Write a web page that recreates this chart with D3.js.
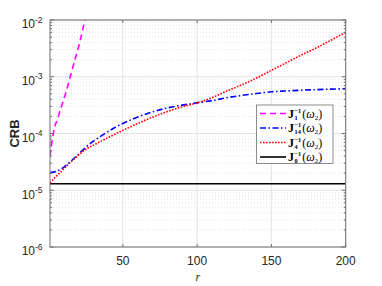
<!DOCTYPE html>
<html><head><meta charset="utf-8">
<script src="https://cdn.jsdelivr.net/npm/d3@7/dist/d3.min.js"></script>
<style>body{margin:0;background:#fff}svg{display:block}</style>
</head><body>
<svg id="c" width="382" height="286"></svg>
<script>
// ---- data ----
const rJ1 = [1, 2, 3, 4, 6, 8, 10, 12, 14, 16, 18, 20, 22, 24, 26];
const crbJ1 = [4.0e-5, 6.3e-5, 9.3e-5, 1.26e-4, 1.78e-4, 2.63e-4, 3.8e-4, 5.6e-4, 8.7e-4, 1.35e-3, 2.1e-3, 3.2e-3, 5.2e-3, 8.7e-3, 1.45e-2];
const rCurve = [1, 5, 10, 15, 20, 25, 30, 35, 40, 45, 50, 60, 70, 80, 90, 100, 110, 120, 130, 140, 150, 160, 170, 180, 190, 200];
const crbJ14 = [2.04e-5, 2.14e-5, 2.51e-5, 3.24e-5, 4.27e-5, 5.69e-5, 7.24e-5, 8.91e-5, 1.08e-4, 1.29e-4, 1.5e-4, 1.95e-4, 2.4e-4, 2.82e-4, 3.16e-4, 3.47e-4, 3.8e-4, 4.27e-4, 4.68e-4, 5.07e-4, 5.43e-4, 5.62e-4, 5.79e-4, 5.92e-4, 6.05e-4, 6.17e-4];
const crbJ4 = [1.35e-5, 1.74e-5, 2.34e-5, 3.16e-5, 4.12e-5, 5.25e-5, 6.17e-5, 7.24e-5, 8.45e-5, 9.82e-5, 1.135e-4, 1.5e-4, 1.94e-4, 2.44e-4, 2.96e-4, 3.47e-4, 4.27e-4, 5.6e-4, 7.2e-4, 9.5e-4, 1.3e-3, 1.76e-3, 2.4e-3, 3.2e-3, 4.4e-3, 6.1e-3];
const rJ0 = [1, 200];
const crbJ0 = [1.3e-5, 1.3e-5];
const xTicks = [50, 100, 150, 200];
const yTickExps = [-6, -5, -4, -3, -2];
const legendSubs = ["1", "14", "4", "0"];
const xLabel = "r";
const yLabel = "CRB";

// ---- layout ----
const L = 50, R = 345.7, T = 20, B = 247;
const svg = d3.select("#c");
const x = d3.scaleLinear().domain([1, 200]).range([L, R]);
const y = d3.scaleLog().domain([1e-6, 1e-2]).range([B, T]);

// grid
const g = svg.append("g");
const minor = [];
for (let e = -6; e < -2; e++) for (let m = 2; m <= 9; m++) minor.push(m * Math.pow(10, e));
g.selectAll(".mg").data(minor).enter().append("line")
  .attr("x1", L).attr("x2", R).attr("y1", d => y(d)).attr("y2", d => y(d))
  .attr("stroke", "#d0d0d0").attr("stroke-width", 0.6).attr("stroke-dasharray", "1,2");
g.selectAll(".Mg").data(yTickExps).enter().append("line")
  .attr("x1", L).attr("x2", R).attr("y1", d => y(Math.pow(10, d))).attr("y2", d => y(Math.pow(10, d)))
  .attr("stroke", "#e3e3e3").attr("stroke-width", 1);
g.selectAll(".xg").data(xTicks).enter().append("line")
  .attr("x1", d => x(d)).attr("x2", d => x(d)).attr("y1", T).attr("y2", B)
  .attr("stroke", "#e3e3e3").attr("stroke-width", 1);

// clip
svg.append("clipPath").attr("id", "clip").append("rect")
  .attr("x", L).attr("y", T).attr("width", R - L).attr("height", B - T);

const series = [
  {r: rJ1, v: crbJ1, color: "#ff00ff", dash: "6,4"},
  {r: rCurve, v: crbJ14, color: "#0000ff", dash: "6,2.5,1.5,2.5"},
  {r: rCurve, v: crbJ4, color: "#ff0000", dash: "1.6,1.4"},
  {r: rJ0, v: crbJ0, color: "#000000", dash: null}
];
const plot = svg.append("g").attr("clip-path", "url(#clip)");
series.forEach(s => {
  plot.append("path")
    .attr("d", d3.line().curve(d3.curveMonotoneX).x(d => x(d[0])).y(d => y(d[1]))(s.r.map((r, i) => [r, s.v[i]])))
    .attr("fill", "none").attr("stroke", s.color).attr("stroke-width", 1.6)
    .attr("stroke-dasharray", s.dash);
});

// axes frame
const ax = svg.append("g").attr("stroke", "#707070").attr("stroke-width", 1);
ax.append("rect").attr("x", L).attr("y", T).attr("width", R - L).attr("height", B - T).attr("fill", "none");
yTickExps.forEach(e => {
  const yy = y(Math.pow(10, e));
  ax.append("line").attr("x1", L).attr("x2", L + 4).attr("y1", yy).attr("y2", yy);
  ax.append("line").attr("x1", R).attr("x2", R - 4).attr("y1", yy).attr("y2", yy);
});
minor.forEach(v => {
  const yy = y(v);
  ax.append("line").attr("x1", L).attr("x2", L + 2).attr("y1", yy).attr("y2", yy);
  ax.append("line").attr("x1", R).attr("x2", R - 2).attr("y1", yy).attr("y2", yy);
});
xTicks.forEach(t => {
  ax.append("line").attr("x1", x(t)).attr("x2", x(t)).attr("y1", B).attr("y2", B - 3);
  ax.append("line").attr("x1", x(t)).attr("x2", x(t)).attr("y1", T).attr("y2", T + 3);
});

// tick labels
const font = "Liberation Sans, Arial, sans-serif";
const tl = svg.append("g").attr("fill", "#262626").attr("font-family", font);
xTicks.forEach(t => {
  tl.append("text").attr("x", x(t)).attr("y", 265).attr("text-anchor", "middle")
    .attr("font-size", 12).text(t);
});
yTickExps.forEach(e => {
  const yy = y(Math.pow(10, e));
  tl.append("text").attr("x", 35).attr("y", yy + 8.3).attr("text-anchor", "end")
    .attr("font-size", 12).text("10");
  tl.append("text").attr("x", 35).attr("y", yy + 2.5).attr("text-anchor", "start")
    .attr("font-size", 8.5).text(e);
});
// axis labels
svg.append("text").attr("transform", `translate(19,${(T + B) / 2}) rotate(-90)`)
  .attr("text-anchor", "middle").attr("font-family", font).attr("font-weight", "bold")
  .attr("font-size", 13).attr("fill", "#262626").text(yLabel);
svg.append("text").attr("x", (L + R) / 2).attr("y", 281).attr("text-anchor", "middle")
  .attr("font-family", "Liberation Serif, serif").attr("font-style", "italic")
  .attr("font-size", 12).attr("fill", "#262626").text(xLabel);

// legend
const lg = svg.append("g");
lg.append("rect").attr("x", 256.5).attr("y", 105).attr("width", 76.5).attr("height", 58.5)
  .attr("fill", "#fff").attr("stroke", "#707070").attr("stroke-width", 0.8);
const rowY = [113.5, 128, 142.5, 157];
const serif = "Liberation Serif, DejaVu Serif, serif";
series.forEach((s, i) => {
  const yy = rowY[i];
  lg.append("line").attr("x1", 260).attr("x2", 286).attr("y1", yy).attr("y2", yy)
    .attr("stroke", s.color).attr("stroke-width", 1.6).attr("stroke-dasharray", s.dash);
  const by = yy + 4;
  let x0 = 288;
  const J = lg.append("text").attr("x", x0).attr("y", by).attr("font-family", serif)
    .attr("font-weight", "bold").attr("font-size", 12).text("J");
  x0 += J.node().getComputedTextLength() + 0.5;
  const sup = lg.append("text").attr("x", x0).attr("y", by - 4.8).attr("font-family", serif)
    .attr("font-weight", "bold").attr("font-size", 6.3).text("\u22121");
  const sub = lg.append("text").attr("x", x0).attr("y", by + 2.4).attr("font-family", serif)
    .attr("font-weight", "bold").attr("font-size", 6.3).text(legendSubs[i]);
  x0 += Math.max(sup.node().getComputedTextLength(), sub.node().getComputedTextLength()) + 1;
  const t = lg.append("text").attr("x", x0).attr("y", by).attr("font-family", serif).attr("font-size", 12);
  t.append("tspan").text("(");
  t.append("tspan").attr("font-style", "italic").text("\u03c9");
  t.append("tspan").attr("font-size", 7).attr("dy", 2).text("2");
  t.append("tspan").attr("dy", -2).text(")");
});
</script>
</body></html>
